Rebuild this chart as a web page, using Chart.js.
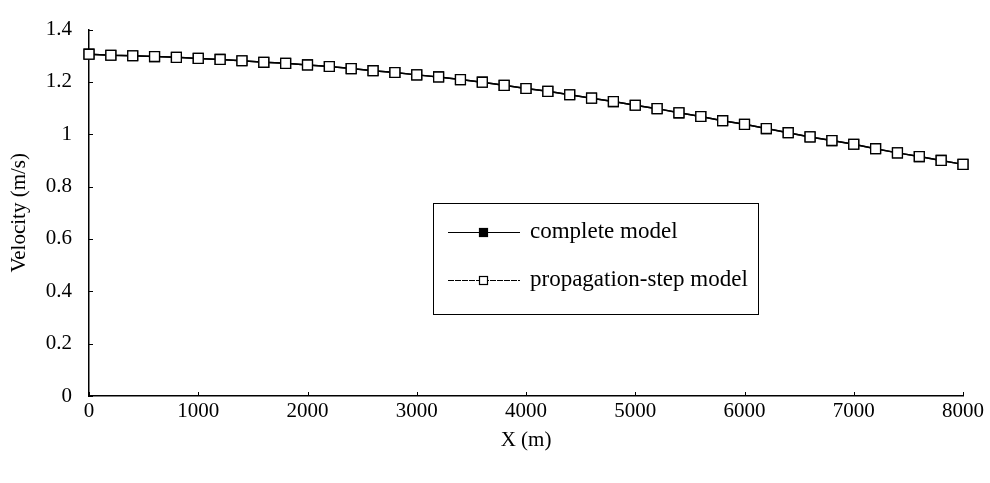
<!DOCTYPE html>
<html>
<head>
<meta charset="utf-8">
<script src="https://cdn.jsdelivr.net/npm/chart.js@4/dist/chart.umd.min.js"></script>
<style>
  html, body { margin: 0; padding: 0; background: #fff; }
  #wrap { width: 990px; height: 483px; }
</style>
</head>
<body>
<div id="wrap"><canvas id="velChart" width="990" height="483"></canvas></div>
<script>
// distance along the channel (m)
const xValues = [0, 200, 400, 600, 800, 1000, 1200, 1400, 1600, 1800,
  2000, 2200, 2400, 2600, 2800, 3000, 3200, 3400, 3600, 3800,
  4000, 4200, 4400, 4600, 4800, 5000, 5200, 5400, 5600, 5800,
  6000, 6200, 6400, 6600, 6800, 7000, 7200, 7400, 7600, 7800, 8000];

// velocity (m/s), both models lie on top of each other
const completeModel = [1.306, 1.302, 1.300, 1.297, 1.294, 1.290, 1.286, 1.281, 1.275, 1.271,
  1.265, 1.259, 1.251, 1.243, 1.236, 1.227, 1.219, 1.209, 1.199, 1.187,
  1.175, 1.164, 1.151, 1.138, 1.125, 1.111, 1.098, 1.082, 1.068, 1.052,
  1.038, 1.022, 1.006, 0.990, 0.976, 0.962, 0.945, 0.929, 0.915, 0.900, 0.885];
const propagationModel = [1.306, 1.302, 1.300, 1.297, 1.294, 1.290, 1.286, 1.281, 1.275, 1.271,
  1.265, 1.259, 1.251, 1.243, 1.236, 1.227, 1.219, 1.209, 1.199, 1.187,
  1.175, 1.164, 1.151, 1.138, 1.125, 1.111, 1.098, 1.082, 1.068, 1.052,
  1.038, 1.022, 1.006, 0.990, 0.976, 0.962, 0.945, 0.929, 0.915, 0.900, 0.885];

const seriesNames = ['complete model', 'propagation-step model'];
const xTicks = [0, 1000, 2000, 3000, 4000, 5000, 6000, 7000, 8000];
const yTicks = [0, 0.2, 0.4, 0.6, 0.8, 1, 1.2, 1.4];

const serif = '"Liberation Serif", "Times New Roman", serif';

function pairs(ys) {
  return xValues.map((x, i) => ({ x: x, y: ys[i] }));
}

// small inward tick marks like the original
const innerTicks = {
  id: 'innerTicks',
  afterDraw(chart) {
    const c = chart.ctx, a = chart.chartArea;
    const xs = chart.scales.x, ys = chart.scales.y;
    c.save();
    c.strokeStyle = '#000';
    c.lineWidth = 1;
    xTicks.forEach(v => {
      const px = Math.round(xs.getPixelForValue(v)) + 0.5;
      c.beginPath(); c.moveTo(px, a.bottom); c.lineTo(px, a.bottom - 4); c.stroke();
    });
    yTicks.forEach(v => {
      const py = Math.round(ys.getPixelForValue(v)) + 0.5;
      c.beginPath(); c.moveTo(a.left, py); c.lineTo(a.left + 4, py); c.stroke();
    });
    c.restore();
  }
};

// boxed legend inside the plot
const boxLegend = {
  id: 'boxLegend',
  afterDraw(chart) {
    const c = chart.ctx;
    const bx = 433, by = 203, bw = 325, bh = 111;
    c.save();
    c.fillStyle = '#fff';
    c.fillRect(bx, by, bw, bh);
    c.strokeStyle = '#000';
    c.lineWidth = 1;
    c.strokeRect(bx + 0.5, by + 0.5, bw, bh);
    c.font = '23px ' + serif;
    c.textBaseline = 'middle';
    seriesNames.forEach((name, i) => {
      const ds = chart.data.datasets[i];
      const ly = by + 29 + i * 48;
      c.strokeStyle = '#000';
      c.lineWidth = 1.2;
      c.setLineDash(i === 1 ? [6, 1] : []);
      c.beginPath(); c.moveTo(448, ly + 0.5); c.lineTo(520, ly + 0.5); c.stroke();
      c.setLineDash([]);
      c.fillStyle = ds.pointBackgroundColor;
      c.fillRect(479, ly - 4, 9, 9);
      c.strokeRect(479.5, ly - 3.5, 8, 8);
      c.fillStyle = '#000';
      c.fillText(name, 530, ly);
    });
    c.restore();
  }
};

new Chart(document.getElementById('velChart').getContext('2d'), {
  type: 'line',
  data: {
    datasets: [{
      label: seriesNames[0],
      data: pairs(completeModel),
      order: 1,
      clip: false,
      borderColor: '#000',
      borderWidth: 1.5,
      pointStyle: 'rect',
      pointRadius: 7,
      pointBorderWidth: 1.3,
      pointBorderColor: '#000',
      pointBackgroundColor: '#000',
      tension: 0
    }, {
      label: seriesNames[1],
      data: pairs(propagationModel),
      order: 0,
      clip: false,
      borderColor: '#000',
      borderWidth: 1.5,
      pointStyle: 'rect',
      pointRadius: 7,
      pointBorderWidth: 1.3,
      pointBorderColor: '#000',
      pointBackgroundColor: '#fff',
      tension: 0
    }]
  },
  options: {
    responsive: false,
    animation: false,
    layout: { padding: { left: 0, top: 18, right: 27, bottom: 30 } },
    plugins: {
      legend: { display: false },
      tooltip: { enabled: false }
    },
    scales: {
      x: {
        type: 'linear',
        min: 0,
        max: 8000,
        afterFit(s) { s.height = 57; },
        afterBuildTicks(s) { s.ticks = xTicks.map(v => ({ value: v })); },
        grid: { display: true, drawOnChartArea: false, drawTicks: false },
        border: { color: '#000', width: 1.5 },
        ticks: {
          color: '#000',
          padding: 3,
          maxRotation: 0,
          font: { family: serif, size: 21 },
          callback: v => String(v)
        },
        title: {
          display: true,
          text: 'X (m)',
          color: '#000',
          padding: { top: 0, bottom: 0 },
          font: { family: serif, size: 21 }
        }
      },
      y: {
        min: 0,
        max: 1.4,
        afterFit(s) { s.width = 89; },
        afterBuildTicks(s) { s.ticks = yTicks.map(v => ({ value: v })); },
        grid: { display: true, drawOnChartArea: false, drawTicks: false },
        border: { color: '#000', width: 1.5 },
        ticks: {
          color: '#000',
          padding: 17,
          font: { family: serif, size: 21 },
          callback: v => String(+v.toFixed(1))
        },
        title: {
          display: true,
          text: 'Velocity (m/s)',
          color: '#000',
          padding: { top: 7, bottom: 0 },
          font: { family: serif, size: 21 }
        }
      }
    }
  },
  plugins: [innerTicks, boxLegend]
});
</script>
</body>
</html>
